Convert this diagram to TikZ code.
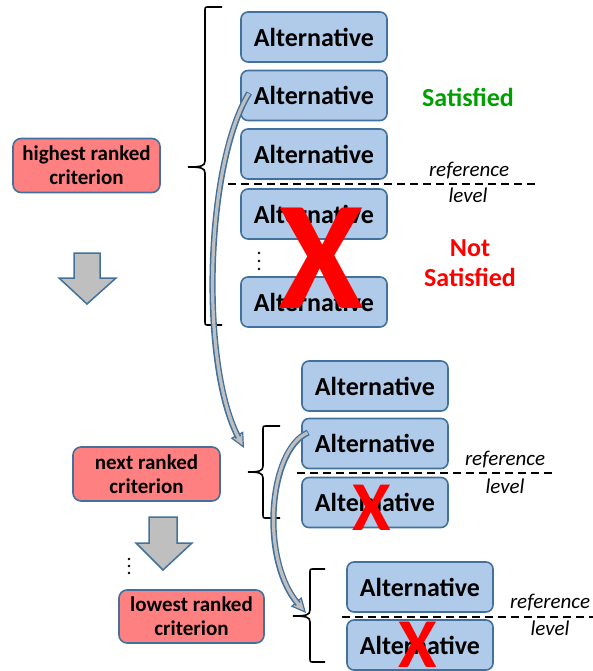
\documentclass[tikz,border=0pt]{standalone}
\usepackage{fontspec}
\setmainfont{Carlito}
\usetikzlibrary{arrows.meta}
\definecolor{altfill}{HTML}{B0CBE9}
\definecolor{edgeblue}{HTML}{41719C}
\definecolor{critfill}{HTML}{FF8080}
\definecolor{okgreen}{HTML}{00A000}
\definecolor{arrowgray}{HTML}{BFBFBF}
\tikzset{
  alt/.style={draw=edgeblue, line width=1.6pt, fill=altfill, rounded corners=7pt,
    minimum width=146pt, minimum height=50pt, inner sep=0pt,
    font=\bfseries\fontsize{26}{28}\selectfont},
  crit/.style={draw=edgeblue, line width=1.6pt, fill=critfill, rounded corners=8pt,
    minimum width=147pt, minimum height=54pt, inner sep=0pt, align=center,
    font=\bfseries\fontsize{21}{24}\selectfont},
  reflabel/.style={font=\itshape\fontsize{21}{24}\selectfont, inner sep=0pt},
  refline/.style={line width=1.8pt, dash pattern=on 8pt off 5pt},
  bracestroke/.style={line width=1.6pt},
  status/.style={font=\bfseries\fontsize{26}{30}\selectfont, align=center, inner sep=0pt},
  bigx/.style={text=red, font=\bfseries\fontsize{#1}{#1}\selectfont, inner sep=0pt},
  downarrow/.style={draw=edgeblue, line width=1.5pt, fill=arrowgray, line join=miter},
  dot/.style={fill=black, draw=none},
}
% left curly brace: x of spine, top, middle, bottom, tip x, end x
\newcommand\bracepath[6]{%
  \draw[bracestroke] (#6,#2) -- (#1+4,#2) .. controls (#1,#2) .. (#1,#2+4)
    -- (#1,#3-6) .. controls (#1,#3-1) and (#1-4,#3) .. (#5,#3)
    (#5,#3) .. controls (#1-4,#3) and (#1,#3+1) .. (#1,#3+6)
    -- (#1,#4-4) .. controls (#1,#4) .. (#1+4,#4) -- (#6,#4);}
\begin{document}
\begin{tikzpicture}[x=1pt, y=-1pt]
\useasboundingbox (0,0) rectangle (593,671);

% criteria and the steps between them
\node[crit] (c1) at (86.5,165.5) {highest ranked\\criterion};
\node[crit] (c2) at (146.5,474) {next ranked\\criterion};
\node[crit, minimum width=145pt, minimum height=53pt] (c3) at (191.5,616.5) {lowest ranked\\criterion};
\draw[downarrow] (74,253) -- (100,253) -- (100,278) -- (116,278) -- (87,304) -- (59,278) -- (74,278) -- cycle;
\draw[downarrow] (149,517) -- (177,517) -- (177,543) -- (192,543) -- (163,570) -- (136,543) -- (149,543) -- cycle;
\foreach \yy in {559,566,573} \fill[dot] (129,\yy) circle (1.4pt);

% first group of alternatives
\bracepath{205}{7}{167}{325}{188}{222}
\node[alt] (a1) at (314,37) {Alternative};
\node[alt] (a2) at (314,95.5) {Alternative};
\node[alt] (a3) at (314,154) {Alternative};
\node[alt] (a4) at (314,214) {Alternative};
\node[alt] (a5) at (314,302) {Alternative};
\foreach \yy in {253,261,269} \fill[dot] (259,\yy) circle (1.3pt);
\draw[refline] (228,184) -- (537,184);
\node[reflabel] (r1) at (469,171) {reference};
\node[reflabel] (l1) at (468,195) {level};
\node[status, text=okgreen] (ok) at (468,97) {Satisfied};
\node[status, text=red] (nok) at (470,263) {Not\\Satisfied};
\node[bigx=155] (x1) at (321,258) {X};

% second group of alternatives
\bracepath{263}{426}{472}{518}{248}{280}
\node[alt] (b1) at (375,386) {Alternative};
\node[alt] (b2) at (375,443.5) {Alternative};
\node[alt] (b3) at (375,502.5) {Alternative};
\draw[refline] (297,473) -- (555,473);
\node[reflabel] (r2) at (505,460) {reference};
\node[reflabel] (l2) at (505,486) {level};
\node[bigx=70] (x2) at (372,508) {X};

% last group of alternatives
\bracepath{310}{569}{616}{662}{293}{325}
\node[alt] (d1) at (420,587) {Alternative};
\node[alt] (d2) at (420,645) {Alternative};
\draw[refline] (342,617) -- (593,617);
\node[reflabel] (r3) at (550,603) {reference};
\node[reflabel] (l3) at (550,628) {level};
\node[bigx=70] (x3) at (418,645) {X};

% curved arrows carrying the satisfied alternatives onward
\coordinate (s1) at ([xshift=9pt, yshift=2.5pt]a2.west);
\coordinate (t1) at (244,448);
\coordinate (s2) at ([xshift=7pt, yshift=11pt]b2.west);
\coordinate (t2) at (306,613);
\foreach \s/\pa/\pb/\t in {s1/{(205,165)}/{(200,365)}/t1, s2/{(268,450)}/{(260,560)}/t2}{
  \draw[edgeblue, line width=1.2pt, -{Triangle[length=15pt, width=14pt, fill=arrowgray, line width=1.2pt]}]
    (\s) .. controls \pa and \pb .. (\t);
  \draw[edgeblue, line width=6.2pt, shorten >=12pt] (\s) .. controls \pa and \pb .. (\t);
  \draw[arrowgray, line width=3.2pt, shorten >=11pt, shorten <=0.8pt] (\s) .. controls \pa and \pb .. (\t);
}
\end{tikzpicture}
\end{document}
